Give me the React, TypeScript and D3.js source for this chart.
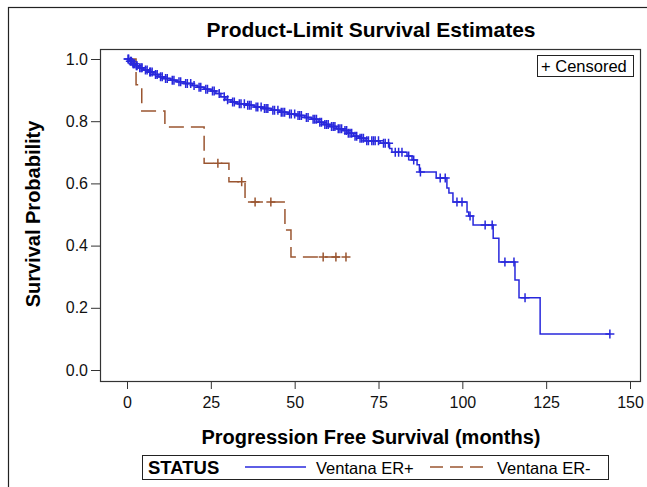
import React, { useEffect, useRef } from "react";
import * as d3 from "d3";

// Kaplan-Meier step points [months, survival]
const erPosSteps: [number, number][] = [
  [0, 1.0], [0.8, 0.993], [1.5, 0.985], [2.5, 0.978], [3.5, 0.972], [5, 0.965],
  [6.5, 0.958], [8, 0.95], [9.5, 0.943], [11, 0.937], [13, 0.932], [15, 0.927],
  [17, 0.921], [19.5, 0.915], [21, 0.909], [23, 0.903], [25, 0.897], [26.5, 0.889],
  [28, 0.879], [29.5, 0.869], [31, 0.862], [33, 0.856], [35.5, 0.851], [38, 0.846],
  [40.5, 0.841], [43, 0.835], [45.5, 0.829], [48, 0.823], [50.5, 0.818], [53, 0.812],
  [55, 0.806], [57, 0.797], [58.5, 0.789], [60.5, 0.783], [62.5, 0.776], [64.5, 0.77],
  [66, 0.761], [67.5, 0.752], [69, 0.745], [71, 0.737], [75.5, 0.729], [78.3, 0.712],
  [79, 0.7], [83.5, 0.688], [85, 0.675], [86.5, 0.66], [87.2, 0.637], [92.2, 0.617],
  [95.4, 0.585], [96, 0.569], [97.2, 0.54], [101.4, 0.508], [101.9, 0.495], [103.2, 0.466],
  [109.2, 0.424], [110.9, 0.347], [115.7, 0.289], [116.9, 0.232], [123.2, 0.116], [144, 0.116],
];

const erPosCensored = [
  0.3, 0.5, 1, 1.3, 1.8, 2, 2.2, 2.8, 3, 3.8, 4.2, 4.5, 5.5, 6, 6.8, 7, 7.5, 8.5, 9, 10,
  10.5, 11.5, 12, 13.5, 14, 15.5, 16, 17.5, 18, 19, 20, 21.5, 22, 23.5, 24, 25.5, 26,
  27.5, 29, 30, 31.5, 32, 33.5, 34, 35, 36, 36.5, 37, 38.5, 39, 40, 41, 41.5, 42, 43.5,
  44, 45, 46, 46.5, 47, 48.5, 49, 50, 51, 51.5, 52, 53.5, 54, 55.5, 56, 56.5, 57.5, 58,
  59, 59.5, 60, 61, 61.5, 62, 63, 63.5, 64, 65, 65.5, 66, 66.5, 67, 68, 68.5, 69.5, 70,
  70.5, 71.5, 72, 73, 73.5, 74, 75, 76.5, 77, 78, 80, 81, 82, 84, 85.5, 87.5, 93.4, 94.9,
  98.4, 99.9, 102.3, 106.8, 108.9, 112.7, 115.4, 118.7, 144,
];

const erNegSteps: [number, number][] = [
  [0, 1.0], [2.7, 0.917], [4.4, 0.833], [11.3, 0.781], [23, 0.665], [30.4, 0.605],
  [35.2, 0.54], [47.1, 0.45], [48.9, 0.363], [65.3, 0.363],
];

const erNegCensored = [27.1, 34.2, 38.2, 42.9, 58.5, 62.3, 65.3];

const xTicks = [0, 25, 50, 75, 100, 125, 150];
const yTicks = [0, 0.2, 0.4, 0.6, 0.8, 1.0];

const BLUE = "#2828DC";
const BROWN = "#9A5530";
const FONT = "'Liberation Sans', Arial, sans-serif";

export default function App() {
  const svgRef = useRef<SVGSVGElement>(null);

  useEffect(() => {
    if (!svgRef.current) return;
    const svg = d3.select(svgRef.current);
    svg.selectAll("*").remove();

    const plot = { left: 100, top: 49, right: 640, bottom: 381 };

    const x = d3.scaleLinear().domain([0, 150]).range([127, 630]);
    const y = d3.scaleLinear().domain([0, 1]).range([370, 59]);

    // outer frame
    svg.append("rect")
      .attr("x", 8.5).attr("y", 7.5)
      .attr("width", 700).attr("height", 600)
      .attr("fill", "white").attr("stroke", "#222").attr("stroke-width", 1.2);

    // title
    svg.append("text")
      .attr("x", 371).attr("y", 37)
      .attr("text-anchor", "middle")
      .attr("font-family", FONT).attr("font-weight", "bold").attr("font-size", 21)
      .text("Product-Limit Survival Estimates");

    // axes
    const yAxis = d3.axisLeft(y).tickValues(yTicks).tickFormat(d3.format(".1f")).tickSize(9).tickPadding(3);
    const gy = svg.append("g").attr("transform", `translate(${plot.left},0)`).call(yAxis);
    const xAxis = d3.axisBottom(x).tickValues(xTicks).tickSize(8).tickPadding(8);
    const gx = svg.append("g").attr("transform", `translate(0,${plot.bottom})`).call(xAxis);
    [gx, gy].forEach((g) => {
      g.select(".domain").remove();
      g.selectAll("line").attr("stroke", "#333");
      g.selectAll("text").attr("font-family", FONT).attr("font-size", 16).attr("fill", "#111");
    });

    // plot frame
    svg.append("rect")
      .attr("x", plot.left + 0.5).attr("y", plot.top + 0.5)
      .attr("width", plot.right - plot.left).attr("height", plot.bottom - plot.top)
      .attr("fill", "none").attr("stroke", "#333").attr("stroke-width", 1.2);

    // axis labels
    svg.append("text")
      .attr("x", 371).attr("y", 444)
      .attr("text-anchor", "middle")
      .attr("font-family", FONT).attr("font-weight", "bold").attr("font-size", 20)
      .text("Progression Free Survival (months)");
    svg.append("text")
      .attr("transform", `translate(40,214) rotate(-90)`)
      .attr("text-anchor", "middle")
      .attr("font-family", FONT).attr("font-weight", "bold").attr("font-size", 20)
      .text("Survival Probability");

    const line = d3.line<[number, number]>()
      .x((d) => x(d[0]))
      .y((d) => y(d[1]))
      .curve(d3.curveStepAfter);

    const survAt = (steps: [number, number][], t: number) => {
      let s = steps[0][1];
      for (const p of steps) if (p[0] <= t) s = p[1];
      return s;
    };

    const groups = [
      { steps: erNegSteps, censored: erNegCensored, color: BROWN, dash: "15,7" },
      { steps: erPosSteps, censored: erPosCensored, color: BLUE, dash: null },
    ];

    groups.forEach((gr) => {
      svg.append("path")
        .datum(gr.steps)
        .attr("fill", "none")
        .attr("stroke", gr.color)
        .attr("stroke-width", 1.5)
        .attr("stroke-dasharray", gr.dash)
        .attr("d", line);

      const marks = svg.append("g");
      gr.censored.forEach((t) => {
        const cx = x(t);
        const cy = y(survAt(gr.steps, t));
        marks.append("path")
          .attr("d", `M${cx - 4.5},${cy}H${cx + 4.5}M${cx},${cy - 4.5}V${cy + 4.5}`)
          .attr("stroke", gr.color)
          .attr("stroke-width", 1.5)
          .attr("fill", "none");
      });
    });

    // censored inset
    svg.append("rect")
      .attr("x", 537.5).attr("y", 55.5).attr("width", 96).attr("height", 21)
      .attr("fill", "white").attr("stroke", "#222");
    svg.append("text")
      .attr("x", 541).attr("y", 72)
      .attr("font-family", FONT).attr("font-size", 16.5)
      .text("+ Censored");

    // legend
    const lg = svg.append("g");
    lg.append("rect")
      .attr("x", 142.5).attr("y", 455.5).attr("width", 466).attr("height", 24)
      .attr("fill", "white").attr("stroke", "#222");
    lg.append("text")
      .attr("x", 148).attr("y", 474)
      .attr("font-family", FONT).attr("font-weight", "bold").attr("font-size", 18.5)
      .text("STATUS");
    lg.append("line")
      .attr("x1", 245).attr("x2", 306).attr("y1", 467).attr("y2", 467)
      .attr("stroke", BLUE).attr("stroke-width", 1.4);
    lg.append("text")
      .attr("x", 316).attr("y", 473.5)
      .attr("font-family", FONT).attr("font-size", 16.5)
      .text("Ventana ER+");
    lg.append("line")
      .attr("x1", 430).attr("x2", 489).attr("y1", 467).attr("y2", 467)
      .attr("stroke", BROWN).attr("stroke-width", 1.4).attr("stroke-dasharray", "13,7");
    lg.append("text")
      .attr("x", 497).attr("y", 473.5)
      .attr("font-family", FONT).attr("font-size", 16.5)
      .text("Ventana ER-");
  }, []);

  return (
    <svg
      ref={svgRef}
      width={647}
      height={487}
      style={{ position: "absolute", left: 0, top: 0, display: "block", background: "white" }}
    />
  );
}
